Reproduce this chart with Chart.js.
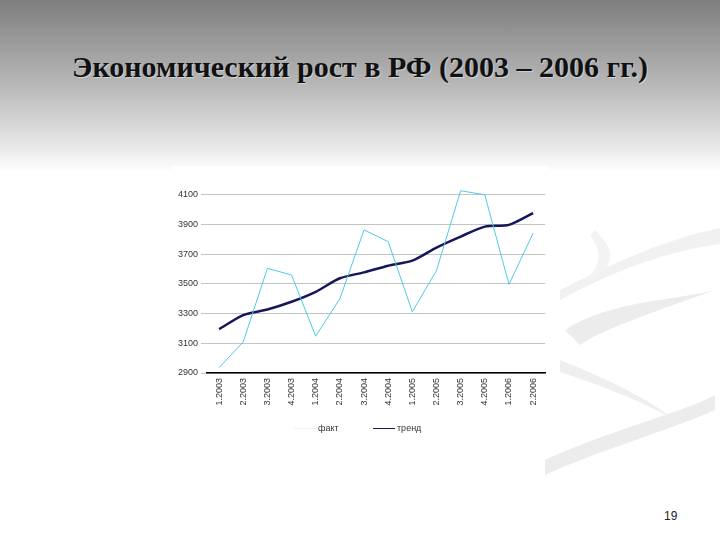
<!DOCTYPE html>
<html>
<head>
<meta charset="utf-8">
<script src="https://cdn.jsdelivr.net/npm/chart.js@4"></script>
<style>
    html, body { margin: 0; padding: 0; }
    body {
        width: 720px; height: 540px; overflow: hidden; position: relative;
        background: linear-gradient(to bottom, #7e7e7e 0px, #b4b4b4 80px, #e6e6e6 145px, #ffffff 172px, #ffffff 540px);
        font-family: "Liberation Sans", Arial, sans-serif;
    }
    .title {
        position: absolute; left: 0; top: 50px; width: 720px; text-align: center;
        font-family: "Liberation Serif", "Times New Roman", serif; font-weight: bold;
        font-size: 30px; color: #111; text-shadow: 1px 1px 1px rgba(255,255,255,0.45);
    }
    .swoosh { position: absolute; left: 0; top: 0; }
    .box {
        position: absolute; left: 171px; top: 166px; width: 378px; height: 274px; background: #fff;
    }
    .legend { position: absolute; top: 257px; font-size: 9px; color: #333; line-height: 10px; }
    .legend i { display: inline-block; width: 22px; height: 0; vertical-align: middle; margin-right: 2px; }
    .page { position: absolute; left: 664px; top: 509px; font-size: 12px; color: #222; }
</style>
</head>
<body>
<svg class="swoosh" width="720" height="540">
    <path d="M560 290 C600 270, 660 240, 720 228 L720 244 C670 250, 610 272, 560 300 Z" fill="#f1f1f1"/>
    <path d="M565 330 C610 300, 680 300, 715 290 C660 310, 600 330, 580 345 Z" fill="#ececec"/>
    <path d="M545 460 C610 430, 690 410, 715 395 L715 410 C670 430, 600 450, 545 475 Z" fill="#ececec"/>
    <path d="M560 360 C610 380, 650 400, 675 420 C640 400, 600 385, 560 372 Z" fill="#efefef"/>
    <path d="M595 230 C620 255, 615 270, 575 290 C600 270, 605 255, 590 235 Z" fill="#f3f3f3"/>
</svg>
<div class="title">Экономический рост в РФ (2003 – 2006 гг.)</div>
<div class="box">
    <canvas id="chart" width="378" height="274"></canvas>
    <div class="legend" style="left:123px"><i style="border-top:1px solid #e2f5fa"></i>факт</div>
    <div class="legend" style="left:202px"><i style="border-top:1.5px solid #16165a"></i>тренд</div>
</div>
<div class="page">19</div>
<script>
// quarters 2003-2006
const categories = ['1.2003', '2.2003', '3.2003', '4.2003', '1.2004', '2.2004', '3.2004', '4.2004',
    '1.2005', '2.2005', '3.2005', '4.2005', '1.2006', '2.2006'];
const factValues = [2936, 3110, 3605, 3560, 3148, 3400, 3864, 3785, 3312, 3590, 4128, 4100, 3497, 3842];
const trendValues = [3195, 3290, 3328, 3380, 3447, 3538, 3578, 3623, 3657, 3745, 3819, 3886, 3898, 3977];
const tickLabels = [2900, 3100, 3300, 3500, 3700, 3900, 4100];

const ctx = document.getElementById('chart').getContext('2d');

new Chart(ctx, {
    type: 'line',
    data: {
        labels: categories,
        datasets: [
            {
                label: 'факт',
                data: factValues,
                borderColor: '#4ccbe6',
                borderWidth: 1,
                pointRadius: 0,
                tension: 0
            },
            {
                label: 'тренд',
                data: trendValues,
                borderColor: '#16165a',
                borderWidth: 2.5,
                pointRadius: 0,
                tension: 0.25
            }
        ]
    },
    options: {
        responsive: false,
        animation: false,
        layout: { padding: { top: 14, right: 2, left: 0, bottom: 27 } },
        plugins: {
            legend: { display: false },
            tooltip: { enabled: false }
        },
        scales: {
            x: {
                offset: true,
                grid: { display: false, drawTicks: false },
                border: { color: '#000', width: 1.5 },
                ticks: {
                    minRotation: 90, maxRotation: 90, autoSkip: false, padding: 5,
                    color: '#333', font: { family: 'Liberation Sans', size: 9 }
                },
                afterFit: (scale) => { scale.height = 40; }
            },
            y: {
                min: 2900,
                max: 4200,
                afterBuildTicks: (scale) => { scale.ticks = tickLabels.map(v => ({ value: v })); },
                grid: { color: '#c4c4c4', tickLength: 6, tickColor: '#c4c4c4' },
                border: { display: false },
                ticks: {
                    padding: 3, color: '#333',
                    font: { family: 'Liberation Sans', size: 9 },
                    callback: (v) => String(v)
                },
                afterFit: (scale) => { scale.width = 36; }
            }
        }
    }
});
</script>
</body>
</html>
